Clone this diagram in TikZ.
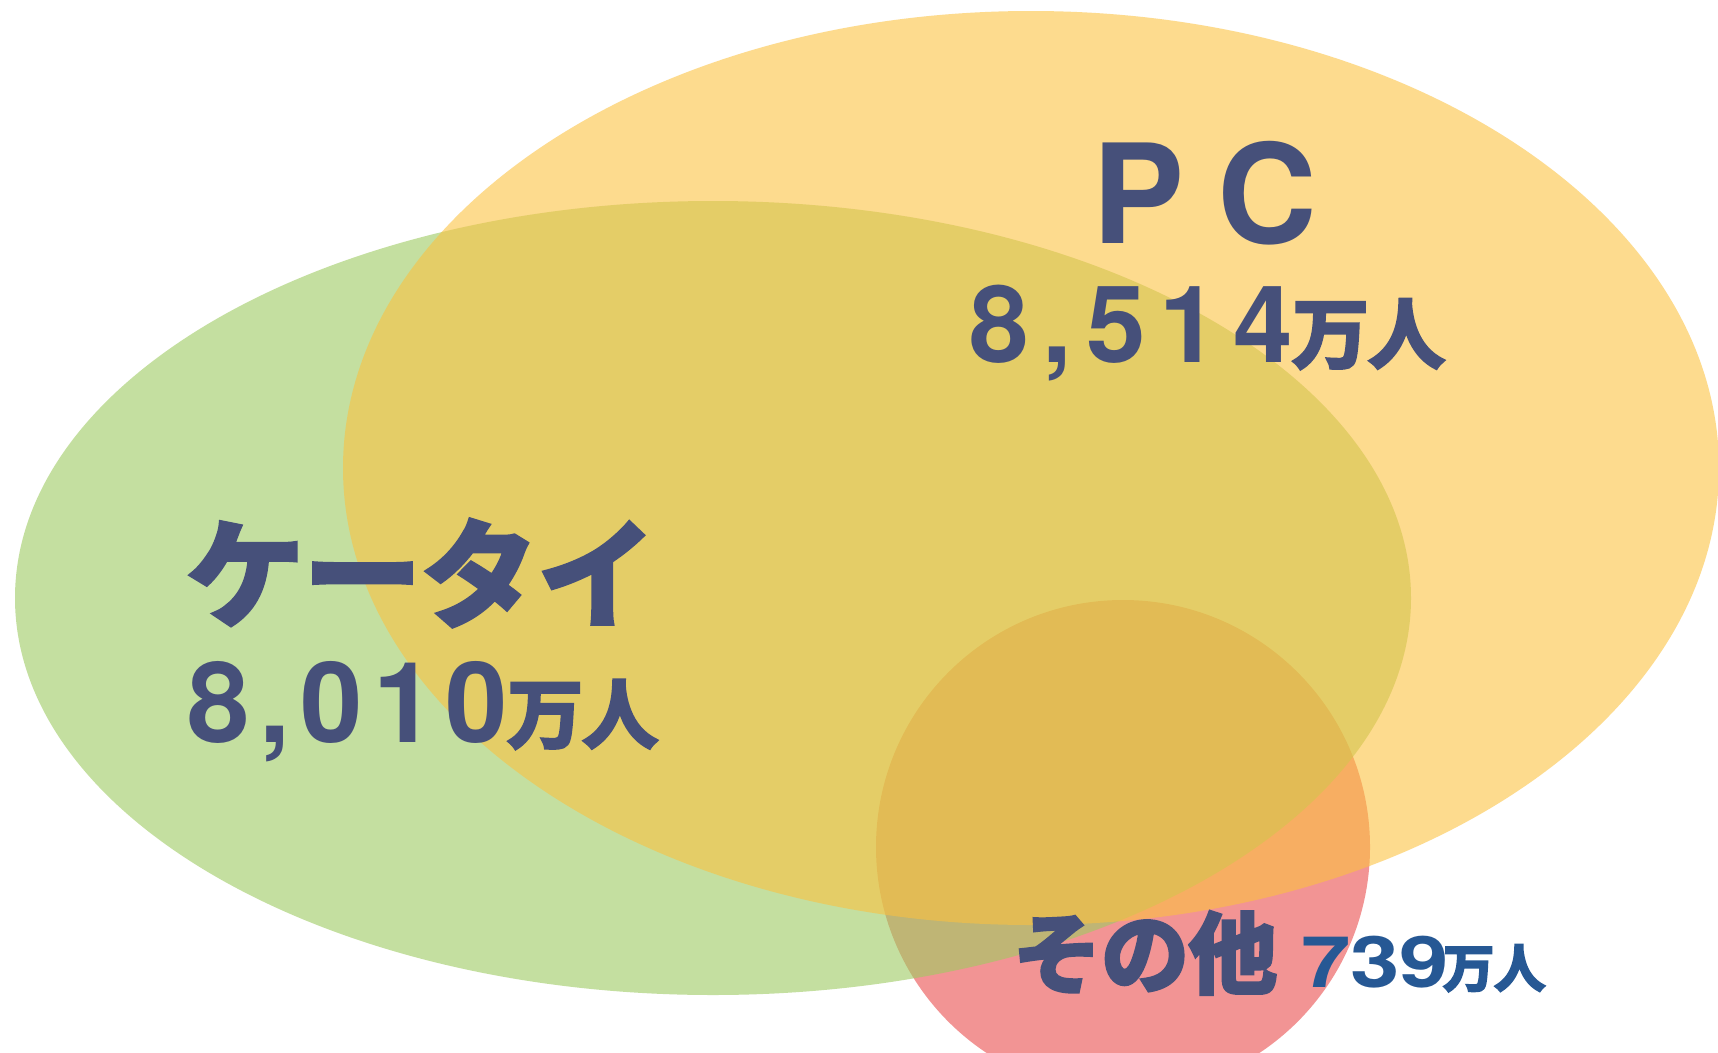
\documentclass[tikz,border=0pt]{standalone}
\usepackage{fontspec}
\setmainfont{TeX Gyre Heros}
\newfontfamily\cjk{Noto Sans CJK JP}[BoldFont=* Bold,BoldFeatures={FakeBold=4.5}]
\usetikzlibrary{positioning}
\definecolor{redfill}{RGB}{242,148,148}
\definecolor{greenfill}{RGB}{158,203,97}
\definecolor{pcfill}{RGB}{252,193,62}
\definecolor{navy}{RGB}{70,80,122}
\definecolor{bluetext}{RGB}{38,88,148}
\tikzstyle{lbl} = [inner sep=0pt,text=navy,font=\bfseries]

\begin{document}
\begin{tikzpicture}[x=1pt,y=-1pt]
	\clip (0,0) rectangle (1718,1052);
	\fill[white] (0,0) rectangle (1718,1052);
	
	\fill[redfill] (1123,847) circle (247pt);
	\fill[greenfill,opacity=0.6] (713,598) ellipse (698pt and 397pt);
	\fill[pcfill,opacity=0.58] (1031,468) ellipse (688pt and 457pt);
	
	\node[lbl,anchor=base west](pc) at (1092,243) {\fontsize{138}{138}\selectfont\addfontfeature{LetterSpace=24}PC};
	\node[lbl,anchor=base west](pcnum) at (969,362) {{\fontsize{107}{107}\selectfont\addfontfeature{LetterSpace=13}8,514}{\cjk\fontsize{76}{76}\selectfont 万人}};
	
	\node[lbl](keitai) at (421,573) {\cjk\fontsize{117}{117}\selectfont ケータイ};
	\node[lbl,anchor=base west](keitainum) at (187,742) {{\fontsize{112}{112}\selectfont\addfontfeature{LetterSpace=9}8,010}{\cjk\fontsize{75}{75}\selectfont 万人}};
	
	\node[lbl](other) at (1145,953) {\cjk\fontsize{88}{88}\selectfont その他};
	\node[lbl,text=bluetext,anchor=base west](othernum) at (1301,987) {{\fontsize{71}{71}\selectfont\scalebox{1.25}[1]{739}}\hspace{-6pt}{\cjk\fontsize{51}{51}\selectfont 万人}};
\end{tikzpicture}
\end{document}
